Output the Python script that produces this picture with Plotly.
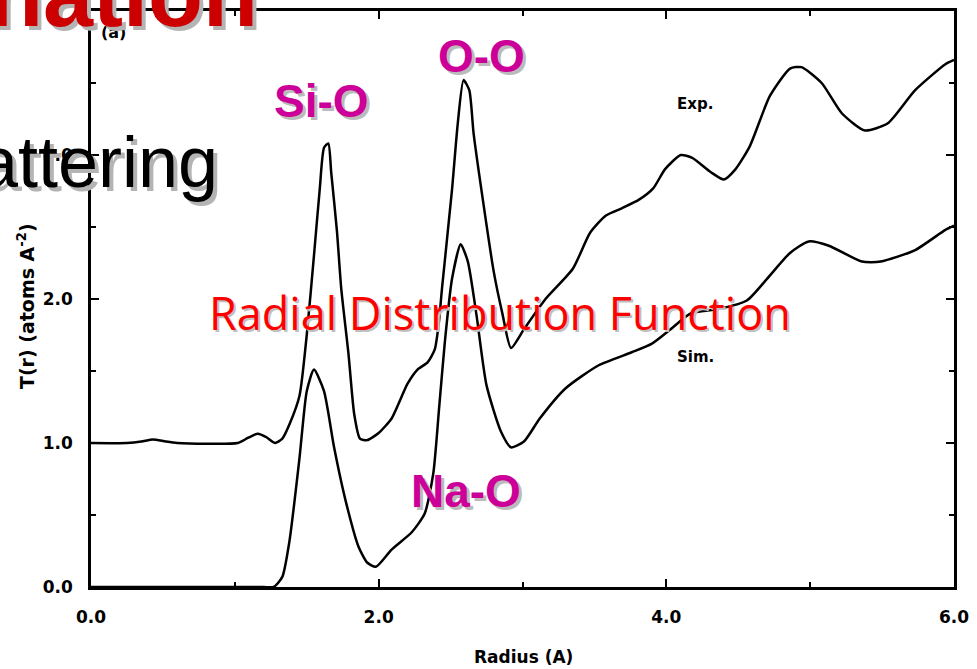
import plotly.graph_objects as go

# ---- data ----
exp_r = [0.0, 0.25, 0.35, 0.43, 0.52, 0.6, 1.02, 1.09, 1.16, 1.22, 1.28, 1.33, 1.38, 1.45,
         1.50, 1.55, 1.59, 1.62, 1.65, 1.67, 1.71, 1.74, 1.79, 1.83, 1.87, 1.92, 2.0, 2.09,
         2.20, 2.27, 2.34, 2.39, 2.42, 2.44, 2.51, 2.55, 2.59, 2.63, 2.66, 2.73, 2.80, 2.86,
         2.92, 3.01, 3.16, 3.35, 3.47, 3.58, 3.69, 3.81, 3.91, 3.99, 4.10, 4.18, 4.31, 4.40,
         4.48, 4.58, 4.72, 4.86, 4.94, 5.08, 5.22, 5.38, 5.54, 5.73, 5.94, 6.0]
exp_t = [1.0, 1.0, 1.01, 1.025, 1.01, 1.0, 1.0, 1.035, 1.065, 1.04, 1.0, 1.03, 1.13, 1.33,
         1.75, 2.30, 2.76, 3.05, 3.08, 2.88, 2.47, 2.07, 1.62, 1.20, 1.03, 1.02, 1.07, 1.17,
         1.41, 1.51, 1.56, 1.65, 1.85, 2.07, 2.76, 3.22, 3.52, 3.45, 3.15, 2.65, 2.19, 1.90,
         1.66, 1.79, 2.0, 2.21, 2.46, 2.58, 2.63, 2.69, 2.77, 2.90, 3.0, 2.98, 2.88, 2.83,
         2.90, 3.06, 3.41, 3.60, 3.61, 3.50, 3.29, 3.17, 3.22, 3.45, 3.63, 3.66]

sim_r = [0.0, 0.6, 1.0, 1.2, 1.27, 1.33, 1.38, 1.45, 1.50, 1.55, 1.62, 1.69, 1.77, 1.86,
         1.92, 1.98, 2.09, 2.23, 2.32, 2.38, 2.42, 2.46, 2.51, 2.57, 2.62, 2.68, 2.75, 2.85,
         2.92, 3.01, 3.12, 3.30, 3.53, 3.76, 3.90, 4.03, 4.17, 4.36, 4.56, 4.70, 4.86, 4.99,
         5.13, 5.36, 5.49, 5.73, 5.94, 6.0]
sim_t = [0.0, 0.0, 0.0, 0.0, 0.0, 0.07, 0.32, 0.90, 1.36, 1.51, 1.36, 0.97, 0.60, 0.28,
         0.17, 0.14, 0.26, 0.38, 0.51, 0.79, 1.24, 1.70, 2.14, 2.38, 2.26, 1.89, 1.40, 1.08,
         0.97, 1.01, 1.17, 1.38, 1.54, 1.63, 1.69, 1.79, 1.90, 1.93, 1.99, 2.14, 2.32, 2.40,
         2.37, 2.26, 2.26, 2.34, 2.48, 2.51]

x_ticks = [0, 2, 4, 6]
x_tick_labels = ["0.0", "2.0", "4.0", "6.0"]
y_ticks = [0, 1, 2, 3]
y_tick_labels = ["0.0", "1.0", "2.0", "3.0"]

# ---- layout geometry (pixels) ----
WIDTH, HEIGHT = 977, 669
L, R, T, B = 91, 15, 8, 82
PW, PH = WIDTH - L - R, HEIGHT - T - B


def px(x):
    return (x - L) / PW


def py(y):
    return 1 - (y - T) / PH


fig = go.Figure()
fig.add_trace(go.Scatter(x=exp_r, y=exp_t, mode="lines", name="Exp.",
                         line=dict(color="black", width=2.5, shape="spline", smoothing=0.6)))
fig.add_trace(go.Scatter(x=sim_r, y=sim_t, mode="lines", name="Sim.",
                         line=dict(color="black", width=2.5, shape="spline", smoothing=0.6)))

axis_font = dict(family="DejaVu Sans", size=17, color="black", weight="bold")

common_axis = dict(showline=True, linecolor="black", linewidth=2.5, mirror="ticks",
                   ticks="inside", ticklen=8, tickwidth=2, tickcolor="black",
                   showgrid=False, zeroline=False, tickfont=axis_font,
                   ticklabeloverflow="allow")

fig.update_xaxes(range=[0, 6], tickvals=x_ticks, ticktext=x_tick_labels,
                 minor=dict(ticks="inside", dtick=1, ticklen=5, tickwidth=2, tickcolor="black"),
                 ticklabelstandoff=13, **common_axis)
fig.update_yaxes(range=[0, 4], tickvals=y_ticks, ticktext=y_tick_labels,
                 minor=dict(ticks="inside", dtick=0.5, ticklen=5, tickwidth=2, tickcolor="black"),
                 ticklabelstandoff=12, **common_axis)

annotations = []


def add_text(text, x, y, size, color, family, weight="normal", xanchor="center",
             yanchor="middle", shadow=None, shift=3, angle=0):
    if shadow:
        annotations.append(dict(text=text, x=px(x), y=py(y), xref="paper", yref="paper",
                                showarrow=False, xanchor=xanchor, yanchor=yanchor,
                                xshift=shift, yshift=-shift, textangle=angle,
                                font=dict(family=family, size=size, color=shadow, weight=weight)))
    annotations.append(dict(text=text, x=px(x), y=py(y), xref="paper", yref="paper",
                            showarrow=False, xanchor=xanchor, yanchor=yanchor, textangle=angle,
                            font=dict(family=family, size=size, color=color, weight=weight)))


# original chart's own labels
add_text("(a)", 114, 30, 16, "black", "DejaVu Sans", "bold")
add_text("Exp.", 701, 101, 15, "black", "DejaVu Sans", "bold")
add_text("Sim.", 701, 356, 15, "black", "DejaVu Sans", "bold")
add_text("Radius (A)", 528, 657, 17, "black", "DejaVu Sans", "bold")
add_text("T(r) (atoms A<sup>-2</sup>)", 26, 305, 19, "black", "DejaVu Sans", "bold", angle=-90)

# slide overlay texts
add_text("nation", 262, -8, 90, "#CC0000", "Liberation Sans", "bold",
         xanchor="right", shadow="#B4B4B4", shift=4)
add_text("attering", 221, 160, 72, "black", "Liberation Sans", "normal",
         xanchor="right", shadow="#B4B4B4", shift=4)
add_text("Si-O", 324, 98, 46, "#CC0099", "Liberation Sans", "bold", shadow="#BBBBBB", shift=3)
add_text("O-O", 485, 53, 46, "#CC0099", "Liberation Sans", "bold", shadow="#BBBBBB", shift=3)
add_text("Na-O", 469, 491, 46, "#CC0099", "Liberation Sans", "bold", shadow="#BBBBBB", shift=3)
add_text("Radial Distribution Function", 504, 311, 45, "#FF0000", "Open Sans", "normal",
         shadow="#C0C0C0", shift=2)

fig.update_layout(width=WIDTH, height=HEIGHT, margin=dict(l=L, r=R, t=T, b=B),
                  paper_bgcolor="white", plot_bgcolor="white", showlegend=False,
                  annotations=annotations)

fig.write_html("out.html")
